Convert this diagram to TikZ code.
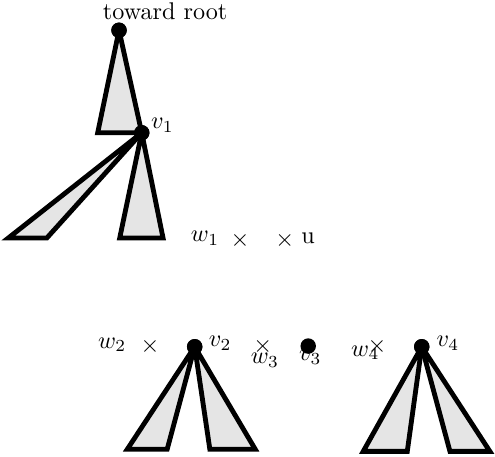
\documentclass[tikz,border=0pt]{standalone}
\usepackage{amsmath}
\usetikzlibrary{positioning}
\tikzset{
  treedot/.style={circle, fill=black, inner sep=0pt, minimum size=6.4pt},
  subtree/.style={draw=black, fill=black!10, line width=2pt, miter limit=4.5},
  cross/.style={inner sep=0pt, font=\normalsize},
  vlabel/.style={inner sep=1pt, font=\normalsize}
}
\begin{document}
\begin{tikzpicture}
  \useasboundingbox (0,0) rectangle (7.195,-6.642);
  % top part: path toward the root
  \node[treedot] (root) at (1.73,-0.44) {};
  \node[vlabel] (rootlab) at (2.40,-0.17) {toward root};
  \node[treedot] (v1) at (2.06,-1.93) {};
  \node[vlabel] (v1lab) at (2.36,-1.82) {$v_1$};
  \coordinate (r1) at (1.42,-1.93);
  \coordinate (a1) at (0.12,-3.46);
  \coordinate (a2) at (0.68,-3.46);
  \coordinate (b1) at (1.74,-3.46);
  \coordinate (b2) at (2.37,-3.46);
  \filldraw[subtree] (root.center) -- (r1) -- (v1.center) -- cycle;
  \filldraw[subtree] (v1.center) -- (a1) -- (a2) -- cycle;
  \filldraw[subtree] (v1.center) -- (b1) -- (b2) -- cycle;
  \node[treedot] at (root) {};
  \node[treedot] at (v1) {};
  \node[vlabel] (w1lab) at (2.98,-3.46) {$w_1$};
  \node[cross] (w1) at (3.49,-3.49) {$\times$};
  \node[cross] (u) at (4.14,-3.49) {$\times$};
  \node[vlabel] (ulab) at (4.48,-3.46) {u};
  % bottom row
  \node[vlabel] (w2lab) at (1.63,-5.01) {$w_2$};
  \node[cross] (w2) at (2.18,-5.04) {$\times$};
  \node[treedot] (v2) at (2.83,-5.04) {};
  \node[vlabel] (v2lab) at (3.20,-4.99) {$v_2$};
  \coordinate (c1) at (1.85,-6.53);
  \coordinate (c2) at (2.43,-6.53);
  \coordinate (d1) at (3.05,-6.53);
  \coordinate (d2) at (3.71,-6.53);
  \filldraw[subtree] (v2.center) -- (c1) -- (c2) -- cycle;
  \filldraw[subtree] (v2.center) -- (d1) -- (d2) -- cycle;
  \node[treedot] at (v2) {};
  \node[cross] (w3) at (3.82,-5.04) {$\times$};
  \node[vlabel] (w3lab) at (3.85,-5.24) {$w_3$};
  \node[treedot] (v3) at (4.48,-5.03) {};
  \node[vlabel] (v3lab) at (4.51,-5.19) {$v_3$};
  \node[vlabel] (w4lab) at (5.31,-5.13) {$w_4$};
  \node[cross] (w4) at (5.48,-5.04) {$\times$};
  \node[treedot] (v4) at (6.13,-5.04) {};
  \node[vlabel] (v4lab) at (6.51,-4.99) {$v_4$};
  \coordinate (e1) at (5.28,-6.56);
  \coordinate (e2) at (5.92,-6.56);
  \coordinate (f1) at (6.54,-6.56);
  \coordinate (f2) at (7.12,-6.56);
  \filldraw[subtree] (v4.center) -- (e1) -- (e2) -- cycle;
  \filldraw[subtree] (v4.center) -- (f1) -- (f2) -- cycle;
  \node[treedot] at (v4) {};
\end{tikzpicture}
\end{document}
